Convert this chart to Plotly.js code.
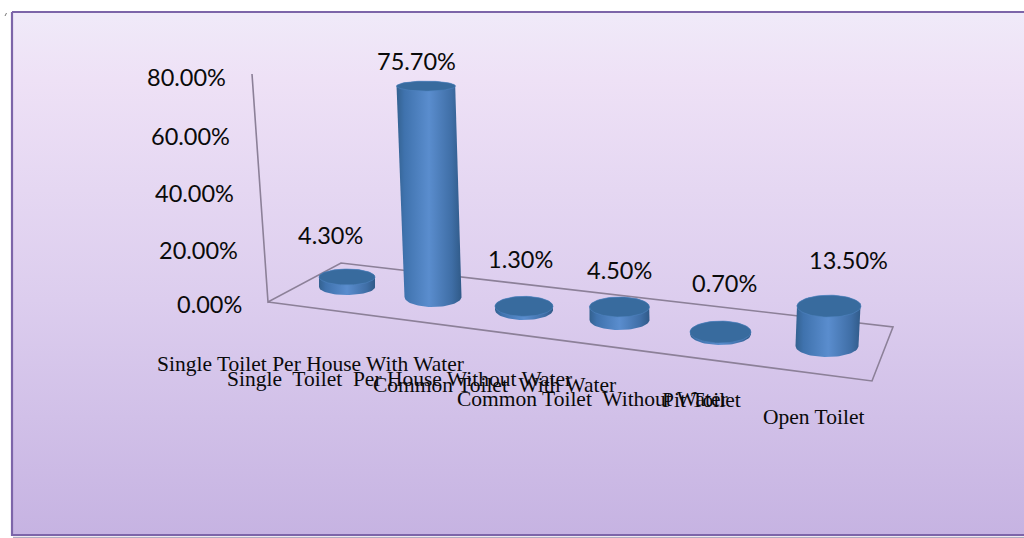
<!DOCTYPE html>
<html><head><meta charset="utf-8">
<script src="https://cdn.plot.ly/plotly-3.0.1.min.js"></script>
<style>html,body{margin:0;padding:0;background:#fff}#c{width:1024px;height:538px}</style>
</head><body><div id="c"></div>
<script>
// ---- data ----
const categories = ["Single Toilet Per House With Water","Single  Toilet  Per House Without Water","Common Toilet  With Water","Common Toilet  Without Water","Pit Toilet","Open Toilet"];
const values = [4.3, 75.7, 1.3, 4.5, 0.7, 13.5];
const valueLabels = ["4.30%","75.70%","1.30%","4.50%","0.70%","13.50%"];
const tickValues = [0, 20, 40, 60, 80];
const tickLabels = ["0.00%","20.00%","40.00%","60.00%","80.00%"];

// ---- layout (pixel-like positions) ----
const W = 1024, H = 538, ZERO = 303, K = 2.84;
const Y = p => (ZERO - p) / K;            // page row -> axis value
const barX = [347, 433, 524, 619.5, 720.5, 827];
const barFloor = [287, 297, 310, 320, 334, 346];
const barScale = [0.82, 0.981, 1, 1.02, 1, 1.04];
const barLean = [0, -0.033, 0, 0, 0, 0.05];
const rxTop = [28, 29.5, 29, 30, 30.5, 32];
const rxBot = [28, 28.5, 29, 30, 30.5, 31.5];
const ryTop = [8, 5, 10, 10, 11, 11];
const ryBot = [8, 10, 10, 10, 11, 11];
const labelX = [330, 416, 520, 619, 724.5, 848];
const labelY = [235, 61, 259, 270, 283, 260];
const catX = [310, 399, 494, 592, 701, 813];
const catY = [364, 379, 385, 399, 400, 417];
const tickRight = [242.5, 238.5, 234.5, 230.5, 226.5];
const tickRow = [304, 250, 193, 136, 77];

const traces = [];
// background
traces.push({x:[12,1030,1030,12,12], y:[Y(12),Y(12),Y(535),Y(535),Y(12)], mode:'lines', fill:'toself',
  line:{color:'#7d65a9',width:2.2},
  fillgradient:{type:'vertical',colorscale:[[0,'#c6b3e2'],[0.45,'#dccdee'],[0.87,'#eee1f6'],[1,'#f0eaf9']]}});
traces.push({x:[13,1024], y:[Y(537.5),Y(537.5)], mode:'lines', line:{color:'#b2abc0',width:1.5}});
traces.push({x:[5,6.5], y:[Y(16),Y(13)], mode:'lines', line:{color:'#777',width:1}});
// walls / floor
const lineC = '#8c8098';
traces.push({x:[252,268,341,893,872,268], y:[Y(74),Y(302),Y(263),Y(327),Y(381),Y(302)], mode:'lines', line:{color:lineC,width:1.6}});

// cylinders
values.forEach((v,i)=>{
  const by = Y(barFloor[i]);
  const ty = by + v*barScale[i];
  const bx = barX[i];
  const tx = bx + barLean[i]*(v*barScale[i]*K);
  const xs=[], ys=[];
  const N=40;
  for(let a=0;a<=N;a++){const t=Math.PI*a/N; xs.push(bx-rxBot[i]*Math.cos(t)); ys.push(by-ryBot[i]/K*Math.sin(t));}
  for(let a=0;a<=N;a++){const t=Math.PI*a/N; xs.push(tx+rxTop[i]*Math.cos(t)); ys.push(ty+ryTop[i]/K*Math.sin(t));}
  xs.push(xs[0]); ys.push(ys[0]);
  const xL=Math.min(bx-rxBot[i],tx-rxTop[i]), xR=Math.max(bx+rxBot[i],tx+rxTop[i]);
  traces.push({x:xs,y:ys,mode:'lines',line:{width:0,color:'rgba(0,0,0,0)'},fill:'toself',
    fillgradient:{type:'horizontal',start:xL,stop:xR,colorscale:[[0,'#33618f'],[0.12,'#3f72ad'],[0.5,'#5a8dce'],[0.85,'#3f6ea6'],[1,'#305a88']]}});
  const cx=[],cy=[];
  for(let a=0;a<=2*N;a++){const t=Math.PI*a/N; cx.push(tx+rxTop[i]*Math.cos(t)); cy.push(ty+ryTop[i]/K*Math.sin(t));}
  traces.push({x:cx,y:cy,mode:'lines',line:{width:0.6,color:'#4f83c0'},fill:'toself',fillcolor:'#386b9e'});
});

const annotations = [];
const note=(x,row,text,font,anchor)=>annotations.push({x:x,y:Y(row),text:text,showarrow:false,xanchor:anchor||'center',yanchor:'middle',font:font,xref:'x',yref:'y',borderpad:0});
const sans={family:'Lato, "Open Sans", sans-serif',size:23.5,color:'#0a0a0a'};
const serif={family:'"Liberation Serif", serif',size:21.5,color:'#0a0a0a'};
tickValues.forEach((t,i)=>note(tickRight[i],tickRow[i],tickLabels[i],sans,'right'));
valueLabels.forEach((t,i)=>note(labelX[i],labelY[i],t,sans));
categories.forEach((t,i)=>note(catX[i],catY[i],t,serif));

Plotly.newPlot('c',traces,{
  width:W,height:H,margin:{l:0,r:0,t:0,b:0},showlegend:false,
  paper_bgcolor:'#fff',plot_bgcolor:'#fff',hovermode:false,
  xaxis:{range:[0,W],visible:false,fixedrange:true},
  yaxis:{range:[Y(H),Y(0)],visible:false,fixedrange:true},
  annotations:annotations
},{staticPlot:true,displayModeBar:false});
</script></body></html>
